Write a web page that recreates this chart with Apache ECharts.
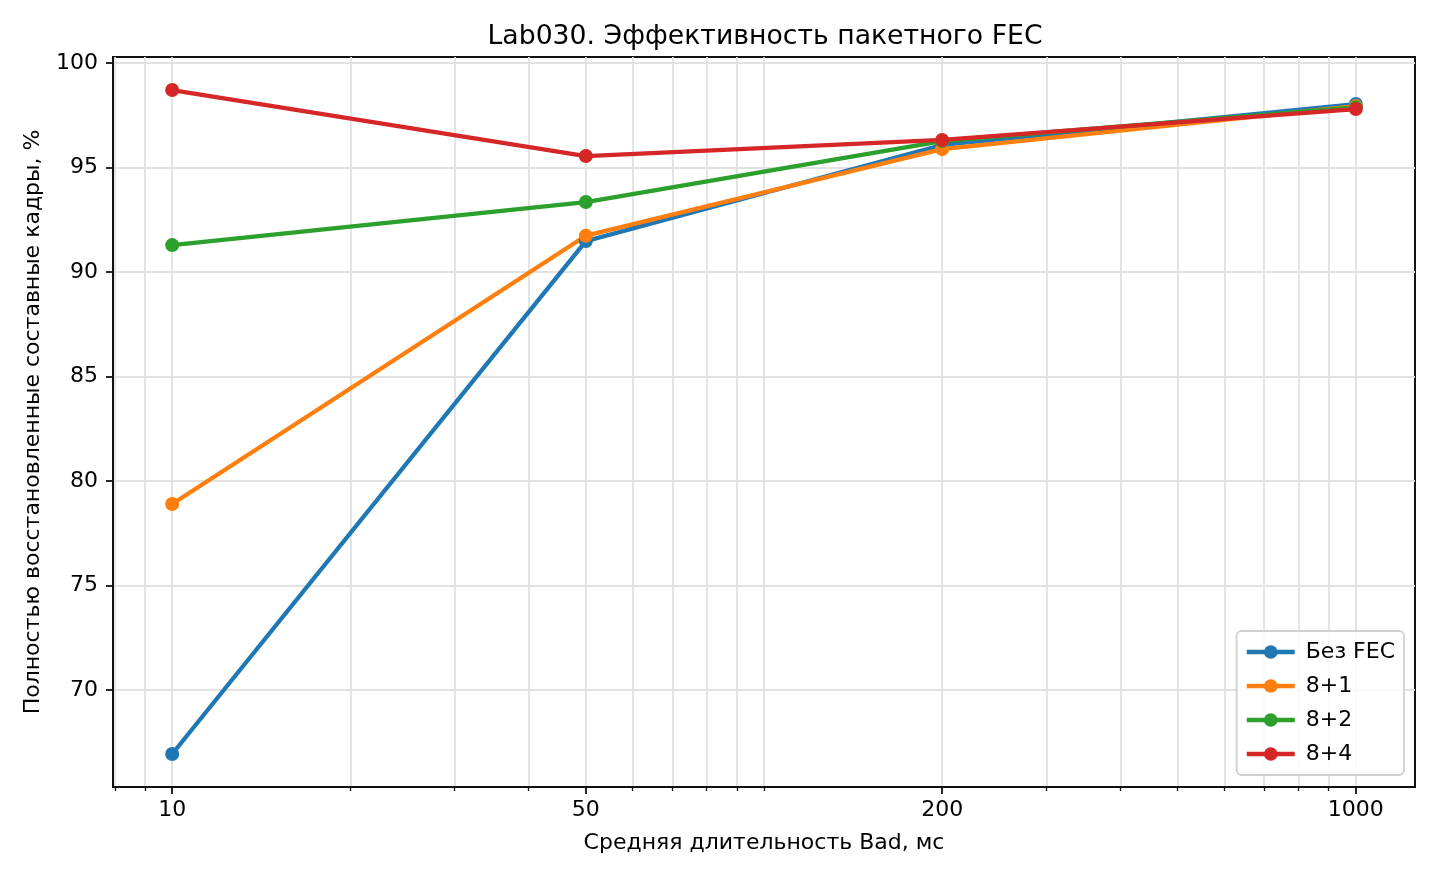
<!DOCTYPE html>
<html>
<head>
<meta charset="utf-8">
<title>Lab030</title>
<script src="https://cdn.jsdelivr.net/npm/echarts@6/dist/echarts.min.js"></script>
<style>
  html, body { margin: 0; padding: 0; background: #fff; }
  #chart { width: 1440px; height: 880px; }
</style>
</head>
<body>
<div id="chart"></div>
<script>
// data
const durations = [10, 50, 200, 1000];
const noFec = [66.94, 91.48, 96.08, 98.04];
const fec81 = [78.9, 91.74, 95.88, 97.94];
const fec82 = [91.29, 93.35, 96.27, 97.88];
const fec84 = [98.71, 95.55, 96.32, 97.8];

const xMajorTicks = [10, 50, 200, 1000];
const xMinorTicks = [8, 9, 20, 30, 40, 60, 70, 80, 90, 100, 300, 400, 500, 600, 700, 800, 900];
const yTicks = [70, 75, 80, 85, 90, 95, 100];

const FONT = 'DejaVu Sans';
const colors = ['#1f77b4', '#ff7f0e', '#2ca02c', '#d62728'];

const pairs = (ys) => durations.map((x, i) => [x, ys[i]]);

const makeSeries = (name, ys, color) => ({
  name: name,
  type: 'line',
  data: pairs(ys),
  xAxisIndex: 0,
  symbol: 'circle',
  symbolSize: 14,
  color: color,
  lineStyle: { width: 4.3, color: color },
  itemStyle: { color: color },
  emphasis: { disabled: true },
  animation: false
});

const chart = echarts.init(document.getElementById('chart'), null, { renderer: 'canvas' });

const gridLine = { show: true, lineStyle: { color: '#e2e2e2', width: 1.8 } };

chart.setOption({
  animation: false,
  title: {
    text: 'Lab030. Эффективность пакетного FEC',
    left: 760,
    top: 19,
    textAlign: 'center',
    textStyle: { fontFamily: FONT, fontSize: 26.7, fontWeight: 'normal', color: '#000' }
  },
  grid: {
    left: 113, right: 25, top: 57, bottom: 93,
    show: true, borderColor: '#111', borderWidth: 2, backgroundColor: 'transparent'
  },
  legend: {
    orient: 'vertical',
    right: 36,
    bottom: 105,
    padding: [10, 9, 10, 8],
    itemWidth: 48,
    itemHeight: 17,
    itemGap: 12,
    lineStyle: { width: 4.3 },
    backgroundColor: 'rgba(255,255,255,0.85)',
    borderColor: '#d0d0d0',
    borderWidth: 1.8,
    borderRadius: 5,
    textStyle: { fontFamily: FONT, fontSize: 22, color: '#000', padding: [0, 0, 0, 6] },
    data: ['Без FEC', '8+1', '8+2', '8+4']
  },
  xAxis: [
    {
      type: 'log',
      logBase: 10,
      min: 7.943,
      max: 1258.9,
      position: 'bottom',
      name: 'Средняя длительность Bad, мс',
      nameLocation: 'middle',
      nameGap: 45,
      nameTextStyle: { fontFamily: FONT, fontSize: 22, color: '#000' },
      axisLine: { show: true, onZero: false, lineStyle: { color: '#111', width: 2 } },
      axisTick: { show: true, length: 7, customValues: xMajorTicks, lineStyle: { color: '#111', width: 1.8 } },
      axisLabel: {
        customValues: xMajorTicks,
        formatter: (v) => String(v),
        fontFamily: FONT, fontSize: 22, color: '#000', margin: 12
      },
      splitLine: gridLine,
      minorTick: { show: false }
    },
    {
      type: 'log',
      logBase: 10,
      min: 7.943,
      max: 1258.9,
      position: 'bottom',
      axisLine: { show: false },
      axisTick: { show: true, length: 4, customValues: xMinorTicks, lineStyle: { color: '#111', width: 1.3 } },
      axisLabel: { show: false },
      splitLine: gridLine
    }
  ],
  yAxis: {
    type: 'value',
    min: 65.36,
    max: 100.29,
    name: 'Полностью восстановленные составные кадры, %',
    nameLocation: 'middle',
    nameGap: 69,
    nameTextStyle: { fontFamily: FONT, fontSize: 22, color: '#000' },
    axisLine: { show: true, lineStyle: { color: '#111', width: 2 } },
    axisTick: { show: true, length: 7, customValues: yTicks, lineStyle: { color: '#111', width: 1.8 } },
    axisLabel: { customValues: yTicks, fontFamily: FONT, fontSize: 22, color: '#000', margin: 15 },
    splitLine: gridLine
  },
  series: [
    makeSeries('Без FEC', noFec, colors[0]),
    makeSeries('8+1', fec81, colors[1]),
    makeSeries('8+2', fec82, colors[2]),
    makeSeries('8+4', fec84, colors[3])
  ]
});
</script>
</body>
</html>
